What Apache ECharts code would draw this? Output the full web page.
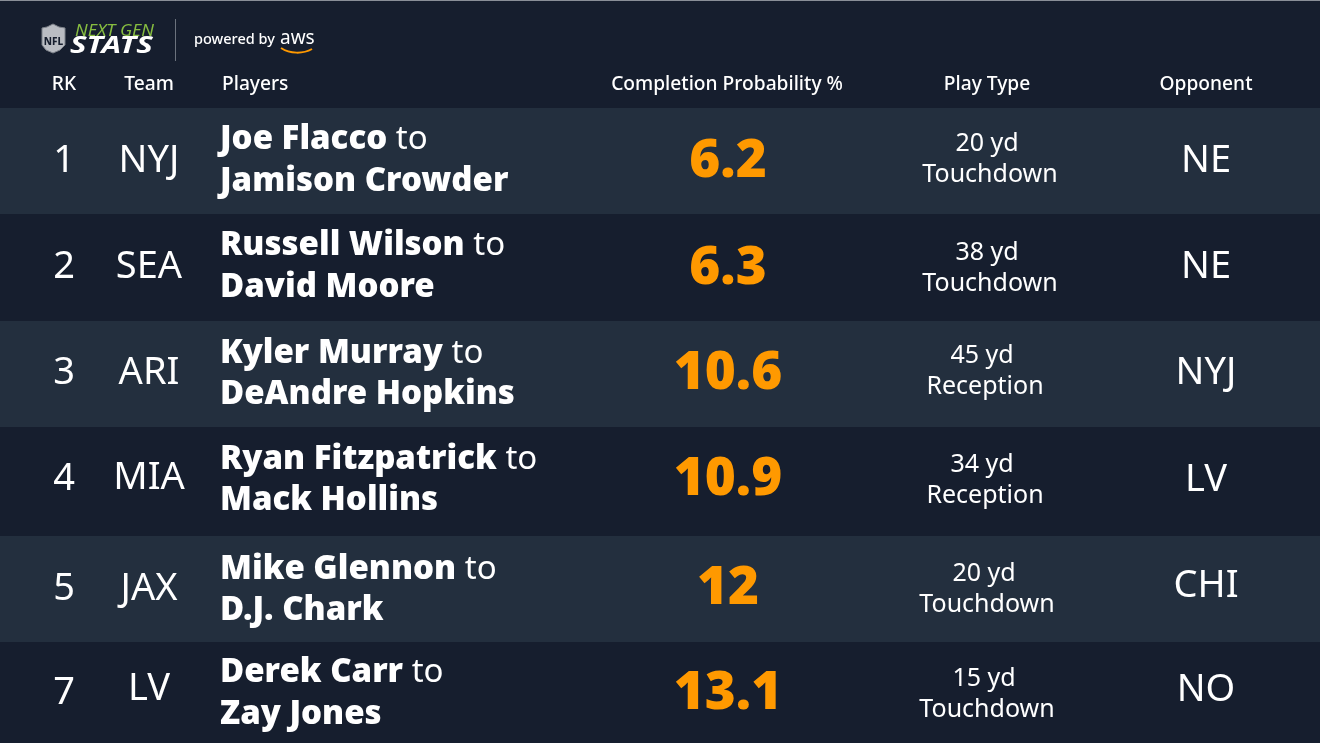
<!DOCTYPE html>
<html>
<head>
<meta charset="utf-8">
<style>html,body{margin:0;padding:0;background:#161e2e}#main{width:1320px;height:743px}</style>
<script src="https://cdn.jsdelivr.net/npm/echarts@6/dist/echarts.min.js"></script>
</head>
<body>
<div id="main"></div>
<script>
// table data
const headers = ['RK', 'Team', 'Players', 'Completion Probability %', 'Play Type', 'Opponent'];
const ranks = ['1', '2', '3', '4', '5', '7'];
const teams = ['NYJ', 'SEA', 'ARI', 'MIA', 'JAX', 'LV'];
const passers = ['Joe Flacco', 'Russell Wilson', 'Kyler Murray', 'Ryan Fitzpatrick', 'Mike Glennon', 'Derek Carr'];
const receivers = ['Jamison Crowder', 'David Moore', 'DeAndre Hopkins', 'Mack Hollins', 'D.J. Chark', 'Zay Jones'];
const probabilities = ['6.2', '6.3', '10.6', '10.9', '12', '13.1'];
const yards = ['20 yd', '38 yd', '45 yd', '34 yd', '20 yd', '15 yd'];
const playTypes = ['Touchdown', 'Touchdown', 'Reception', 'Reception', 'Touchdown', 'Touchdown'];
const opponents = ['NE', 'NE', 'NYJ', 'LV', 'CHI', 'NO'];

// layout of the picture, in pixels
const rowEdges = [108, 214, 321, 427, 536, 642, 743];
const rankY = [159, 265, 371, 477, 587, 691];
const teamY = [159, 265, 371, 476, 587, 687];
const oppY = [159, 265, 371, 478, 584, 688];
const probY = [160, 267, 372, 478, 587, 692];
const namesY = [[137, 179], [243, 285], [351, 392], [457, 498], [567, 608], [670, 712]];
const playY = [[142, 173], [251, 282], [354, 385], [463, 494], [572, 603], [677, 708]];
const playX = [990, 990, 985, 985, 987, 987];
const headerX = [64, 149, 222, 727, 987, 1206];

const FONT = '"Noto Sans", sans-serif';
const DARK = '#161e2e', LIGHT = '#232f3e', ORANGE = '#ff9900', WHITE = '#ffffff';

function txt(api, x, y, text, size, opts) {
  const p = api.coord([x, y + 2]);
  return {
    type: 'text', x: p[0], y: p[1],
    style: Object.assign({
      text: text, fill: WHITE, fontSize: size, fontFamily: FONT,
      align: 'center', verticalAlign: 'middle'
    }, opts || {})
  };
}

function renderRow(params, api) {
  const i = api.value(0);
  const a = api.coord([0, rowEdges[i]]), b = api.coord([1320, rowEdges[i + 1]]);
  const kids = [{
    type: 'rect', shape: { x: a[0], y: a[1], width: b[0] - a[0], height: b[1] - a[1] },
    style: { fill: i % 2 === 0 ? LIGHT : DARK }
  }];
  kids.push(txt(api, 64, rankY[i], ranks[i], 38));
  kids.push(txt(api, 149, teamY[i], teams[i], 38));
  const rich = { b: { fontSize: 33, fontWeight: 900, fontFamily: FONT, fill: WHITE }, r: { fontSize: 33, fontFamily: FONT, fill: WHITE } };
  kids.push(txt(api, 220, namesY[i][0] + 1, '{b|' + passers[i] + '} {r|to}', 33, { align: 'left', rich: rich }));
  kids.push(txt(api, 220, namesY[i][1] + 1, '{b|' + receivers[i] + '}', 33, { align: 'left', rich: rich }));
  kids.push(txt(api, 728, probY[i], probabilities[i], 53, { fill: ORANGE, fontWeight: 900 }));
  kids.push(txt(api, playX[i] - 3, playY[i][0], yards[i], 25));
  kids.push(txt(api, playX[i], playY[i][1], playTypes[i], 25));
  kids.push(txt(api, 1206, oppY[i], opponents[i], 38));
  return { type: 'group', children: kids };
}

function renderHeader(params, api) {
  const i = api.value(0);
  return txt(api, headerX[i], 83, headers[i], 19.2, { align: i === 2 ? 'left' : 'center', fontWeight: 500 });
}

const chart = echarts.init(document.getElementById('main'), null, { renderer: 'canvas' });
chart.setOption({
  backgroundColor: DARK,
  animation: false,
  grid: { left: 0, right: 0, top: 0, bottom: 0 },
  xAxis: { type: 'value', min: 0, max: 1320, show: false },
  yAxis: { type: 'value', min: 0, max: 743, inverse: true, show: false },
  series: [
    { type: 'custom', coordinateSystem: 'cartesian2d', renderItem: renderRow, data: ranks.map((r, i) => [i]), silent: true, clip: false },
    { type: 'custom', coordinateSystem: 'cartesian2d', renderItem: renderHeader, data: headers.map((h, i) => [i]), silent: true, clip: false }
  ],
  graphic: [
    { type: 'rect', shape: { x: 0, y: 0, width: 1320, height: 1 }, style: { fill: '#8a8f98' } },
    // NFL shield
    { type: 'polygon', shape: { points: [[42, 28], [47, 27], [53, 24], [59, 27], [65, 28], [65, 45], [60, 50], [53, 53], [46, 50], [42, 45]] }, style: { fill: '#b9bcc2', stroke: '#7d828a', lineWidth: 1 } },
    { type: 'text', x: 53.5, y: 42, style: { text: 'NFL', fill: DARK, fontSize: 10, fontWeight: 800, fontFamily: FONT, align: 'center', verticalAlign: 'middle' } },
    { type: 'text', x: 75, y: 31, scaleX: 1.12, style: { text: 'NEXT GEN', fill: '#86bc40', fontSize: 16, fontStyle: 'italic', fontFamily: FONT, align: 'left', verticalAlign: 'middle' } },
    { type: 'text', x: 70, y: 46, scaleX: 1.3, style: { text: 'STATS', fill: WHITE, fontSize: 24, fontStyle: 'italic', fontWeight: 700, fontFamily: FONT, align: 'left', verticalAlign: 'middle' } },
    { type: 'rect', shape: { x: 175, y: 19, width: 1, height: 42 }, style: { fill: '#6b727d' } },
    { type: 'text', x: 194, y: 40, style: { text: 'powered by', fill: WHITE, fontSize: 14.5, fontWeight: 500, fontFamily: FONT, align: 'left', verticalAlign: 'middle' } },
    { type: 'text', x: 280, y: 39, style: { text: 'aws', fill: WHITE, fontSize: 19, fontFamily: FONT, align: 'left', verticalAlign: 'middle' } },
    { type: 'bezierCurve', shape: { x1: 281, y1: 48, x2: 312, y2: 49, cpx1: 290, cpy1: 54, cpx2: 303, cpy2: 54 }, style: { stroke: ORANGE, lineWidth: 2, fill: 'none' } }
  ]
});
</script>
</body>
</html>
